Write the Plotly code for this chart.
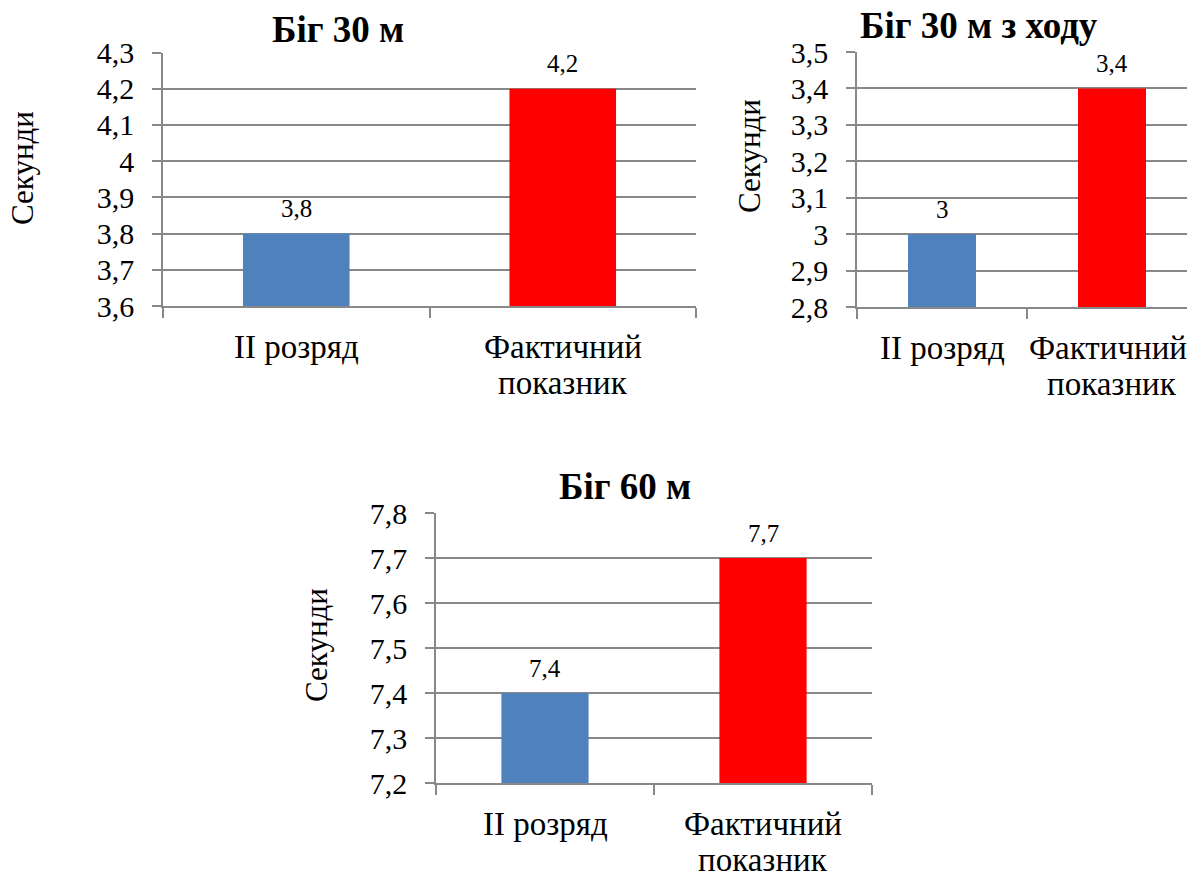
import plotly.graph_objects as go

# Category names shared by the three panels (lines of each label)
categories = ["II розряд", "Фактичний показник"]
category_lines = [["II розряд"], ["Фактичний", "показник"]]
bar_colors = ["#4F81BD", "#FF0000"]

# Panel 1: 30 m sprint
run30_title = "Біг 30 м"
run30_values = [3.8, 4.2]
run30_ticks = [3.6, 3.7, 3.8, 3.9, 4.0, 4.1, 4.2, 4.3]
run30_ticktext = ["3,6", "3,7", "3,8", "3,9", "4", "4,1", "4,2", "4,3"]

# Panel 2: 30 m flying start
fly30_title = "Біг 30 м з ходу"
fly30_values = [3.0, 3.4]
fly30_ticks = [2.8, 2.9, 3.0, 3.1, 3.2, 3.3, 3.4, 3.5]
fly30_ticktext = ["2,8", "2,9", "3", "3,1", "3,2", "3,3", "3,4", "3,5"]

# Panel 3: 60 m sprint
run60_title = "Біг 60 м"
run60_values = [7.4, 7.7]
run60_ticks = [7.2, 7.3, 7.4, 7.5, 7.6, 7.7, 7.8]
run60_ticktext = ["7,2", "7,3", "7,4", "7,5", "7,6", "7,7", "7,8"]

y_title = "Секунди"

W, H = 1187, 871
FONT = "'Liberation Serif', 'Times New Roman', Times, 'DejaVu Serif', serif"
GRID = "#888888"


def px_x(x):
    return x / W


def px_y(y):
    return 1 - y / H


def fmt(v):
    return f"{v:g}".replace(".", ",")


panels = [
    dict(title=run30_title, values=run30_values, ticks=run30_ticks, ticktext=run30_ticktext,
         xd=(163, 696), yd=(52.5, 306), xr=[-0.5, 1.5], tpos=(338, 30), ypos=(22, 168),
         label_shift=0),
    dict(title=fly30_title, values=fly30_values, ticks=fly30_ticks, ticktext=fly30_ticktext,
         xd=(857, 1187), yd=(52, 307), xr=[-0.5, 1.5 - 10 / 170], tpos=(979, 26), ypos=(750, 156),
         label_shift=-4),
    dict(title=run60_title, values=run60_values, ticks=run60_ticks, ticktext=run60_ticktext,
         xd=(436, 872), yd=(513, 783), xr=[-0.5, 1.5], tpos=(625, 486), ypos=(316, 645),
         label_shift=0),
]

fig = go.Figure()
annotations = []

for i, p in enumerate(panels, start=1):
    xa = "x" if i == 1 else f"x{i}"
    ya = "y" if i == 1 else f"y{i}"
    fig.add_trace(go.Bar(
        x=categories, y=p["values"],
        marker=dict(color=bar_colors, line=dict(width=0)),
        width=0.4, xaxis=xa, yaxis=ya, showlegend=False, hoverinfo="skip",
    ))
    xkey = "xaxis" if i == 1 else f"xaxis{i}"
    ykey = "yaxis" if i == 1 else f"yaxis{i}"
    fig.update_layout(**{
        xkey: dict(
            domain=[px_x(p["xd"][0]), px_x(p["xd"][1])],
            anchor=ya, type="category", range=p["xr"], automargin=False,
            showline=True, linecolor=GRID, linewidth=1.5,
            ticks="outside", tickson="boundaries", ticklen=10, tickcolor=GRID, tickwidth=1.5,
            showgrid=False, showticklabels=False,
        ),
        ykey: dict(
            domain=[px_y(p["yd"][1]), px_y(p["yd"][0])],
            anchor=xa, range=[p["ticks"][0], p["ticks"][-1]], automargin=False,
            tickvals=p["ticks"], ticktext=p["ticktext"],
            showline=True, linecolor=GRID, linewidth=1.5,
            ticks="outside", ticklen=9, tickcolor=GRID, tickwidth=1.5,
            showgrid=True, gridcolor=GRID, gridwidth=1.5, zeroline=False,
            ticklabelstandoff=12,
            tickfont=dict(family=FONT, size=30, color="black"),
        ),
    })
    # value labels above bars
    for cat, v in zip(categories, p["values"]):
        annotations.append(dict(
            x=cat, y=v, xref=xa, yref=ya, text=fmt(v), showarrow=False,
            yanchor="middle", yshift=25,
            font=dict(family=FONT, size=25, color="black"),
        ))
    # category labels under the axis, one line at a time
    axis_bottom = p["yd"][1]
    for j, (cat, lines) in enumerate(zip(categories, category_lines)):
        for k, line in enumerate(lines):
            annotations.append(dict(
                x=cat, xref=xa, y=px_y(axis_bottom + 41 + 36 * k), yref="paper",
                text=line, showarrow=False, xanchor="center", yanchor="middle",
                xshift=p["label_shift"] if (j == 1 and k == 0) else 0,
                font=dict(family=FONT, size=33, color="black"),
            ))
    # panel title
    annotations.append(dict(
        x=px_x(p["tpos"][0]), y=px_y(p["tpos"][1]), xref="paper", yref="paper",
        text=f"<b>{p['title']}</b>", showarrow=False, xanchor="center", yanchor="middle",
        font=dict(family=FONT, size=37, color="black"),
    ))
    # y-axis title
    annotations.append(dict(
        x=px_x(p["ypos"][0]), y=px_y(p["ypos"][1]), xref="paper", yref="paper",
        text=y_title, showarrow=False, textangle=-90, xanchor="center", yanchor="middle",
        font=dict(family=FONT, size=31, color="black"),
    ))

fig.update_layout(
    width=W, height=H, margin=dict(l=0, r=0, t=0, b=0, autoexpand=False),
    paper_bgcolor="white", plot_bgcolor="white",
    annotations=annotations, separators=", ",
    font=dict(family=FONT, color="black"),
)

fig.write_html("out.html")
